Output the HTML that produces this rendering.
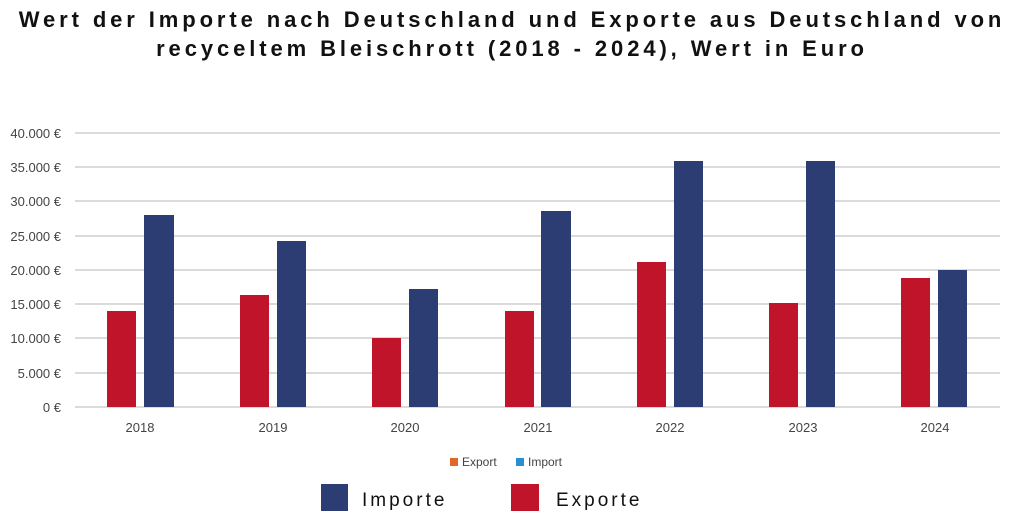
<!DOCTYPE html>
<html><head><meta charset="utf-8"><style>
body{margin:0;background:#fff;width:1024px;height:526px;overflow:hidden;font-family:"Liberation Sans",sans-serif}
.t{position:absolute;left:0;width:1024px;text-align:center;font-size:22px;letter-spacing:3.9px;color:#111;font-weight:bold;white-space:nowrap}
</style></head><body>
<div class="t" style="top:7px">Wert der Importe nach Deutschland und Exporte aus Deutschland von</div>
<div class="t" style="top:36px">recyceltem Bleischrott (2018 - 2024), Wert in Euro</div>
<svg width="1024" height="526" style="position:absolute;left:0;top:0" font-family="Liberation Sans, sans-serif">
<g stroke="#cfcfcf" stroke-width="1.5">
<line x1="75" x2="1000" y1="133" y2="133"/><line x1="75" x2="1000" y1="167" y2="167"/>
<line x1="75" x2="1000" y1="201" y2="201"/><line x1="75" x2="1000" y1="236" y2="236"/>
<line x1="75" x2="1000" y1="270" y2="270"/><line x1="75" x2="1000" y1="304" y2="304"/>
<line x1="75" x2="1000" y1="338" y2="338"/><line x1="75" x2="1000" y1="373" y2="373"/>
<line x1="75" x2="1000" y1="407" y2="407"/></g>
<g font-size="13" fill="#444" text-anchor="end">
<text x="61" y="138">40.000 €</text><text x="61" y="172">35.000 €</text><text x="61" y="206">30.000 €</text>
<text x="61" y="241">25.000 €</text><text x="61" y="275">20.000 €</text><text x="61" y="309">15.000 €</text>
<text x="61" y="343">10.000 €</text><text x="61" y="378">5.000 €</text><text x="61" y="412">0 €</text></g>
<g fill="#c0142a">
<rect x="107" y="311" width="29" height="96"/><rect x="240" y="295" width="29" height="112"/>
<rect x="372" y="338" width="29" height="69"/><rect x="505" y="311" width="29" height="96"/>
<rect x="637" y="262" width="29" height="145"/><rect x="769" y="303" width="29" height="104"/>
<rect x="901" y="278" width="29" height="129"/></g>
<g fill="#2b3d73">
<rect x="144" y="215" width="30" height="192"/><rect x="277" y="241" width="29" height="166"/>
<rect x="409" y="289" width="29" height="118"/><rect x="541" y="211" width="30" height="196"/>
<rect x="674" y="161" width="29" height="246"/><rect x="806" y="161" width="29" height="246"/>
<rect x="938" y="270" width="29" height="137"/></g>
<g font-size="13" fill="#444" text-anchor="middle">
<text x="140" y="432">2018</text><text x="273" y="432">2019</text><text x="405" y="432">2020</text>
<text x="538" y="432">2021</text><text x="670" y="432">2022</text><text x="803" y="432">2023</text><text x="935" y="432">2024</text></g>
<rect x="450" y="458" width="8" height="8" fill="#e0672a"/>
<text x="462" y="466" font-size="12" fill="#444">Export</text>
<rect x="516" y="458" width="8" height="8" fill="#2a8fd0"/>
<text x="528" y="466" font-size="12" fill="#444">Import</text>
<rect x="321" y="484" width="27" height="27" fill="#2b3d73"/>
<text x="362" y="506" font-size="19" letter-spacing="3" fill="#111">Importe</text>
<rect x="511" y="484" width="28" height="27" fill="#c0142a"/>
<text x="556" y="506" font-size="19" letter-spacing="3" fill="#111">Exporte</text>
</svg>
</body></html>
